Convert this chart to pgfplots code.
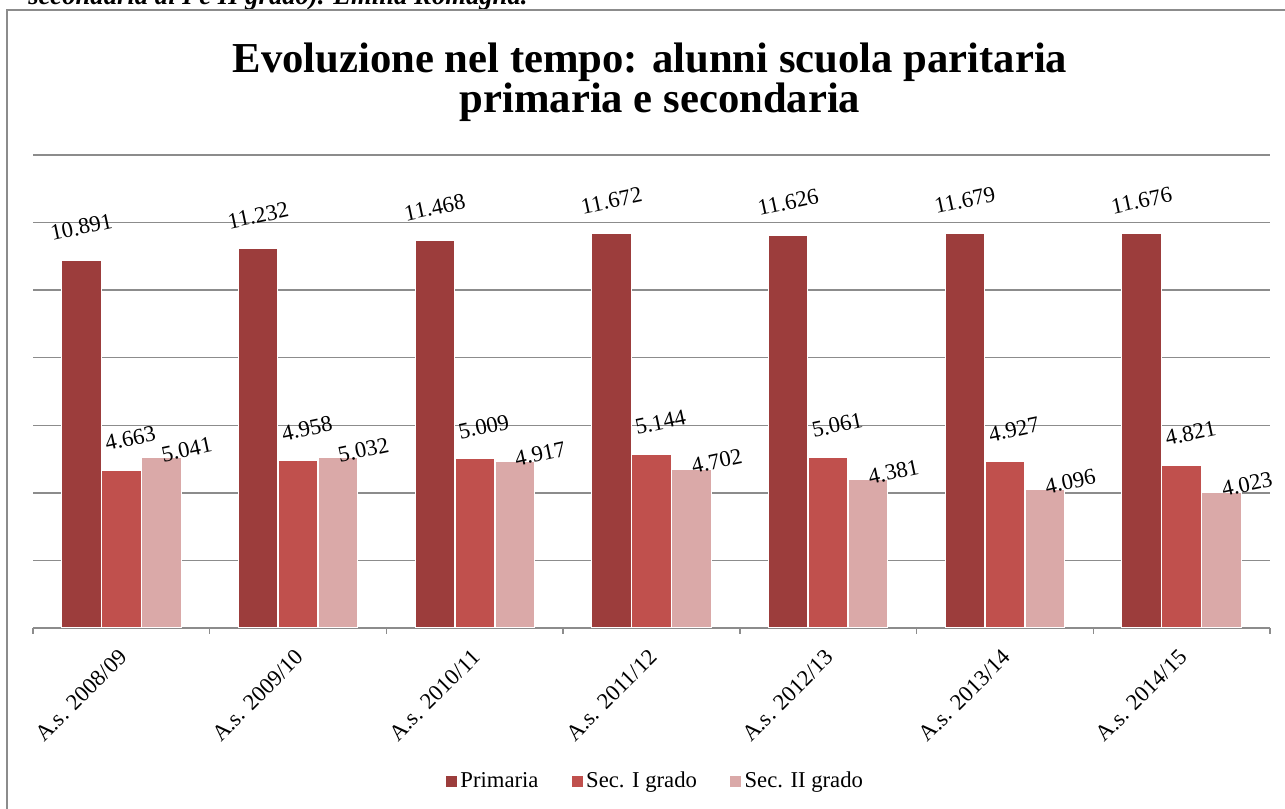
\documentclass[border=0pt]{standalone}
\usepackage{fontspec}
\setmainfont{Liberation Serif}
\usepackage{pgfplots}
\pgfplotsset{compat=1.18}
\definecolor{cPrim}{RGB}{156,61,60}
\definecolor{cSecA}{RGB}{192,80,77}
\definecolor{cSecB}{RGB}{218,169,168}
\definecolor{gridgray}{RGB}{140,140,140}
\begin{document}
\begin{tikzpicture}
\useasboundingbox (0,0) rectangle (963.75pt,606.75pt);
\node[anchor=base west, inner sep=0pt, font=\fontsize{20}{20}\selectfont\bfseries\itshape] at (21pt,603pt) {secondaria di I e II grado). Emilia Romagna.};
\draw[gridgray, line width=1.1pt] (5.25pt,-20pt) -- (5.25pt,599.25pt) -- (990pt,599.25pt);
\node[anchor=base, inner sep=0pt, font=\fontsize{32}{32}\selectfont\bfseries] at (487.5pt,552pt) {Evoluzione nel tempo: alunni scuola paritaria};
\node[anchor=base, inner sep=0pt, font=\fontsize{32}{32}\selectfont\bfseries] at (495pt,522pt) {primaria e secondaria};
\begin{axis}[
  at={(24.75pt,135.75pt)}, anchor=south west,
  scale only axis, width=927.75pt, height=354.75pt,
  /pgf/number format/assume math mode=true,
  /pgf/number format/1000 sep={.},
  scaled y ticks=false,
  ybar=0.5pt, bar width=29.5pt,
  xmin=-0.5, xmax=6.5, ymin=0, ymax=14000,
  xtick={0,...,6},
  xticklabels={A.s. 2008/09,A.s. 2009/10,A.s. 2010/11,A.s. 2011/12,A.s. 2012/13,A.s. 2013/14,A.s. 2014/15},
  minor xtick={-0.5,0.5,...,6.5},
  major x tick style={draw=none},
  minor x tick style={draw=gridgray, line width=1pt},
  minor tick length=4.5pt,
  tick align=outside,
  xtick pos=bottom,
  ytick={0,2000,...,14000},
  yticklabels={},
  major y tick style={draw=none},
  ymajorgrids,
  grid style={draw=gridgray, line width=1pt},
  axis x line*=bottom, axis y line*=left,
  x axis line style={draw=gridgray, line width=1pt},
  y axis line style={draw=none},
  xticklabel style={font=\fontsize{17}{17}\selectfont, xshift=-2.95pt, yshift=-5.93pt, rotate=45, anchor=north east},
  every axis plot/.append style={draw=white, line width=0.75pt},
  nodes near coords,
  every node near coord/.append style={font=\fontsize{17}{17}\selectfont, anchor=center, text=black},
  legend columns=3,
  legend style={at={(0.503,-0.3235)}, anchor=center, draw=none, fill=none,
    font=\fontsize{17}{17}\selectfont,
    /tikz/every odd column/.append style={column sep=0pt},
    /tikz/every even column/.append style={column sep=22pt}},
  legend image code/.code={\fill[#1] (0pt,-4.5pt) rectangle (9pt,4.5pt);},
]
\addplot[fill=cPrim, every node near coord/.append style={yshift=24.75pt, rotate=12}] coordinates {(0,10891) (1,11232) (2,11468) (3,11672) (4,11626) (5,11679) (6,11676)};
\addplot[fill=cSecA, every node near coord/.append style={xshift=6.75pt, yshift=24pt, rotate=12}] coordinates {(0,4663) (1,4958) (2,5009) (3,5144) (4,5061) (5,4927) (6,4821)};
\addplot[fill=cSecB, every node near coord/.append style={xshift=19pt, yshift=6pt, rotate=12}] coordinates {(0,5041) (1,5032) (2,4917) (3,4702) (4,4381) (5,4096) (6,4023)};
\legend{Primaria, Sec. I grado, Sec. II grado}
\end{axis}
\end{tikzpicture}
\end{document}
